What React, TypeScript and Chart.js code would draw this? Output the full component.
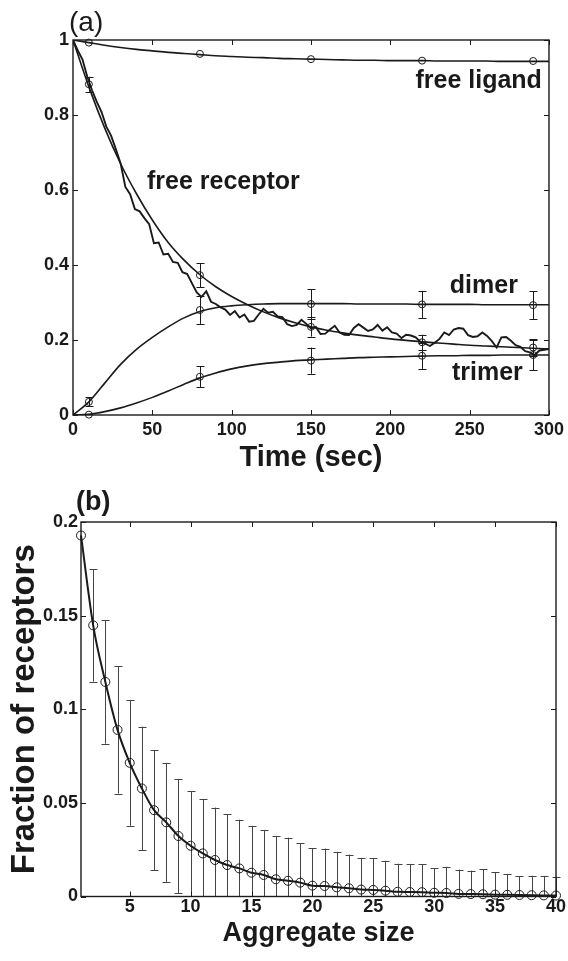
import React, { useEffect, useRef } from "react";
import { Chart, registerables } from "chart.js";

Chart.register(...registerables);

const FONT = '"Liberation Sans", Arial, Helvetica, sans-serif';
const INK = "#1a1a1a";

// ---------- Panel (a) data ----------
const timeGrid = [0, 10, 20, 30, 40, 50, 60, 70, 80, 90, 100, 110, 120, 130, 140, 150, 160, 170, 180, 190, 200, 210, 220, 230, 240, 250, 260, 270, 280, 290, 300];
const ligandCurve = [1.0, 0.993, 0.986, 0.98, 0.975, 0.971, 0.967, 0.964, 0.961, 0.958, 0.956, 0.954, 0.953, 0.951, 0.95, 0.949, 0.948, 0.947, 0.946, 0.946, 0.945, 0.945, 0.945, 0.944, 0.944, 0.944, 0.944, 0.943, 0.943, 0.943, 0.943];
const receptorCurve = [1.0, 0.875, 0.765, 0.67, 0.59, 0.52, 0.46, 0.413, 0.374, 0.342, 0.316, 0.294, 0.275, 0.259, 0.246, 0.235, 0.226, 0.219, 0.213, 0.208, 0.203, 0.199, 0.195, 0.192, 0.189, 0.186, 0.184, 0.182, 0.18, 0.178, 0.176];
const dimerCurve = [0, 0.035, 0.085, 0.135, 0.175, 0.207, 0.235, 0.259, 0.276, 0.286, 0.291, 0.294, 0.296, 0.297, 0.297, 0.297, 0.297, 0.297, 0.296, 0.296, 0.296, 0.296, 0.295, 0.295, 0.295, 0.295, 0.294, 0.294, 0.294, 0.294, 0.294];
const trimerCurve = [0, 0.002, 0.009, 0.019, 0.032, 0.047, 0.064, 0.082, 0.099, 0.112, 0.123, 0.131, 0.137, 0.141, 0.145, 0.147, 0.149, 0.151, 0.153, 0.154, 0.155, 0.156, 0.157, 0.158, 0.158, 0.159, 0.159, 0.16, 0.16, 0.16, 0.16];

const noisyTime = [0, 3, 6, 9, 12, 15, 18, 21, 24, 27, 30, 33, 36, 39, 42, 45, 48, 51, 54, 57, 60, 63, 66, 69, 72, 75, 78, 81, 84, 87, 90, 93, 96, 99, 102, 105, 108, 111, 114, 117, 120, 123, 126, 129, 132, 135, 138, 141, 144, 147, 150, 153, 156, 159, 162, 165, 168, 171, 174, 177, 180, 183, 186, 189, 192, 195, 198, 201, 204, 207, 210, 213, 216, 219, 222, 225, 228, 231, 234, 237, 240, 243, 246, 249, 252, 255, 258, 261, 264, 267, 270, 273, 276, 279, 282, 285, 288, 291, 294, 297, 300];
const noisyReceptor = [1.0, 0.972, 0.948, 0.902, 0.866, 0.835, 0.808, 0.769, 0.745, 0.709, 0.671, 0.608, 0.589, 0.549, 0.543, 0.525, 0.509, 0.458, 0.46, 0.428, 0.43, 0.408, 0.406, 0.381, 0.376, 0.351, 0.327, 0.315, 0.33, 0.302, 0.296, 0.287, 0.281, 0.267, 0.277, 0.26, 0.268, 0.249, 0.251, 0.268, 0.283, 0.273, 0.275, 0.263, 0.261, 0.242, 0.237, 0.24, 0.254, 0.243, 0.231, 0.235, 0.216, 0.217, 0.228, 0.238, 0.22, 0.214, 0.213, 0.232, 0.242, 0.233, 0.224, 0.228, 0.24, 0.225, 0.234, 0.22, 0.217, 0.205, 0.214, 0.212, 0.207, 0.195, 0.19, 0.184, 0.193, 0.203, 0.22, 0.213, 0.228, 0.232, 0.23, 0.213, 0.208, 0.21, 0.22, 0.211, 0.197, 0.18, 0.207, 0.208, 0.198, 0.186, 0.182, 0.17, 0.167, 0.16, 0.172, 0.174, 0.176];

const obsTime = [10, 80, 150, 220, 290];
const ligandObs = [0.993, 0.963, 0.949, 0.945, 0.944];
const receptorObs = [0.882, 0.373, 0.235, 0.194, 0.18];
const receptorErr = [0.02, 0.032, 0.026, 0.02, 0.022];
const dimerObs = [0.035, 0.28, 0.296, 0.295, 0.293];
const dimerErr = [0.012, 0.037, 0.04, 0.036, 0.037];
const trimerObs = [0.001, 0.102, 0.145, 0.158, 0.16];
const trimerErr = [0, 0.028, 0.035, 0.035, 0.04];

const xTicksA = [0, 50, 100, 150, 200, 250, 300];
const yTicksA = [0, 0.2, 0.4, 0.6, 0.8, 1];
const curveLabels = ["free ligand", "free receptor", "dimer", "trimer"];

// ---------- Panel (b) data ----------
const aggregateSize = [1, 2, 3, 4, 5, 6, 7, 8, 9, 10, 11, 12, 13, 14, 15, 16, 17, 18, 19, 20, 21, 22, 23, 24, 25, 26, 27, 28, 29, 30, 31, 32, 33, 34, 35, 36, 37, 38, 39, 40];
const fraction = [0.1928, 0.1448, 0.1146, 0.089, 0.0714, 0.0577, 0.0461, 0.0396, 0.0323, 0.0271, 0.023, 0.0195, 0.0168, 0.015, 0.0127, 0.0115, 0.0092, 0.0084, 0.0074, 0.0058, 0.0056, 0.0049, 0.0044, 0.0037, 0.0035, 0.0031, 0.0025, 0.0024, 0.0023, 0.002, 0.0019, 0.0014, 0.0013, 0.0012, 0.001, 0.0009, 0.0008, 0.0007, 0.0006, 0.0005];
const fractionErr = [0, 0.03, 0.033, 0.034, 0.0336, 0.033, 0.032, 0.0318, 0.0305, 0.029, 0.029, 0.028, 0.027, 0.026, 0.025, 0.024, 0.023, 0.023, 0.021, 0.02, 0.02, 0.019, 0.018, 0.017, 0.017, 0.016, 0.015, 0.015, 0.015, 0.013, 0.014, 0.013, 0.0125, 0.0134, 0.012, 0.011, 0.01, 0.0104, 0.0104, 0.01];
const xTicksB = [5, 10, 15, 20, 25, 30, 35, 40];
const yTicksB = [0, 0.05, 0.1, 0.15, 0.2];

// ---------- helpers ----------
const toXY = (xs: number[], ys: number[]) => xs.map((x, i) => ({ x, y: ys[i] }));

const curveDs = (xs: number[], ys: number[], width: number, smooth = true) => ({
  data: toXY(xs, ys),
  borderColor: INK,
  borderWidth: width,
  pointRadius: 0,
  fill: false,
  cubicInterpolationMode: smooth ? "monotone" : "default",
  tension: 0,
});

const markerDs = (xs: number[], ys: number[], r: number) => ({
  data: toXY(xs, ys),
  showLine: false,
  pointRadius: r,
  pointStyle: "circle",
  pointBackgroundColor: "rgba(0,0,0,0)",
  pointBorderColor: INK,
  pointBorderWidth: 1,
  clip: 8,
});

const framePlugin = {
  id: "frame",
  afterDatasetsDraw(chart: any) {
    const { ctx, chartArea, scales } = chart;
    const { left, right, top, bottom } = chartArea;
    const x = scales.x;
    const y = scales.y;
    ctx.save();
    ctx.strokeStyle = INK;
    ctx.lineWidth = 1;
    const len = 5;
    ctx.beginPath();
    x.ticks.forEach((t: any) => {
      const px = Math.round(x.getPixelForValue(t.value)) + 0.5;
      ctx.moveTo(px, bottom);
      ctx.lineTo(px, bottom - len);
      ctx.moveTo(px, top);
      ctx.lineTo(px, top + len);
    });
    y.ticks.forEach((t: any) => {
      const py = Math.round(y.getPixelForValue(t.value)) + 0.5;
      ctx.moveTo(left, py);
      ctx.lineTo(left + len, py);
      ctx.moveTo(right, py);
      ctx.lineTo(right - len, py);
    });
    ctx.stroke();
    ctx.lineWidth = 1.4;
    ctx.strokeRect(left, top, right - left, bottom - top);
    ctx.restore();
  },
};

const makeErrorPlugin = (series: { xs: number[]; ys: number[]; errs: number[]; color: string; cap: number }[]) => ({
  id: "errorbars",
  beforeDatasetsDraw(chart: any) {
    const { ctx, chartArea, scales } = chart;
    const { left, right, top, bottom } = chartArea;
    ctx.save();
    ctx.beginPath();
    ctx.rect(left - 6, top, right - left + 12, bottom - top);
    ctx.clip();
    ctx.lineWidth = 1;
    series.forEach((s) => {
      ctx.strokeStyle = s.color;
      s.xs.forEach((xv, i) => {
        const e = s.errs[i];
        if (!e) return;
        const px = Math.round(scales.x.getPixelForValue(xv)) + 0.5;
        const y1 = scales.y.getPixelForValue(s.ys[i] + e);
        const y2 = scales.y.getPixelForValue(s.ys[i] - e);
        ctx.beginPath();
        ctx.moveTo(px, y1);
        ctx.lineTo(px, y2);
        ctx.moveTo(px - s.cap, Math.round(y1) + 0.5);
        ctx.lineTo(px + s.cap, Math.round(y1) + 0.5);
        ctx.moveTo(px - s.cap, Math.round(y2) + 0.5);
        ctx.lineTo(px + s.cap, Math.round(y2) + 0.5);
        ctx.stroke();
      });
    });
    ctx.restore();
  },
});

const makeTextPlugin = (
  panel: { text: string; x: number; y: number; font: string },
  notes: { text: string; xv: number; yv: number; align: string }[]
) => ({
  id: "texts",
  afterDraw(chart: any) {
    const { ctx, scales } = chart;
    ctx.save();
    ctx.fillStyle = INK;
    ctx.textBaseline = "alphabetic";
    ctx.font = panel.font;
    ctx.textAlign = "left";
    ctx.fillText(panel.text, panel.x, panel.y);
    ctx.font = `bold 25px ${FONT}`;
    notes.forEach((n) => {
      ctx.textAlign = n.align;
      ctx.fillText(n.text, scales.x.getPixelForValue(n.xv), scales.y.getPixelForValue(n.yv));
    });
    ctx.restore();
  },
});

const tickFont = { family: FONT, size: 18, weight: "bold" as const };

function PanelA() {
  const ref = useRef<HTMLCanvasElement>(null);
  useEffect(() => {
    const chart = new Chart(ref.current as HTMLCanvasElement, {
      type: "line",
      data: {
        datasets: [
          curveDs(timeGrid, ligandCurve, 1.6),
          curveDs(timeGrid, receptorCurve, 1.6),
          curveDs(timeGrid, dimerCurve, 1.6),
          curveDs(timeGrid, trimerCurve, 1.6),
          curveDs(noisyTime, noisyReceptor, 1.9, false),
          markerDs(obsTime, ligandObs, 3.5),
          markerDs(obsTime, receptorObs, 3.5),
          markerDs(obsTime, dimerObs, 3.5),
          markerDs(obsTime, trimerObs, 3.5),
        ] as any,
      },
      options: {
        responsive: false,
        animation: false,
        events: [],
        layout: { padding: { left: 0, right: 19, top: 40, bottom: 0 } },
        plugins: { legend: { display: false }, tooltip: { enabled: false } },
        scales: {
          x: {
            type: "linear",
            min: 0,
            max: 300,
            afterBuildTicks: (s: any) => {
              s.ticks = xTicksA.map((v) => ({ value: v }));
            },
            afterFit: (s: any) => {
              s.height = 65;
            },
            grid: { display: false, drawTicks: false, tickLength: 0 },
            border: { display: false },
            ticks: { font: tickFont, color: INK, padding: 4, maxRotation: 0, autoSkip: false, callback: (v: any) => String(v) },
            title: { display: true, text: "Time (sec)", color: INK, font: { family: FONT, size: 29, weight: "bold" }, padding: { top: 0, bottom: 4.5 } },
          },
          y: {
            type: "linear",
            min: 0,
            max: 1,
            afterBuildTicks: (s: any) => {
              s.ticks = yTicksA.map((v) => ({ value: v }));
            },
            afterFit: (s: any) => {
              s.width = 73;
            },
            grid: { display: false, drawTicks: false, tickLength: 0 },
            border: { display: false },
            ticks: { font: tickFont, color: INK, padding: 4, autoSkip: false, callback: (v: any) => String(v) },
          },
        },
      } as any,
      plugins: [
        makeErrorPlugin([
          { xs: obsTime, ys: receptorObs, errs: receptorErr, color: INK, cap: 4 },
          { xs: obsTime, ys: dimerObs, errs: dimerErr, color: INK, cap: 4 },
          { xs: obsTime, ys: trimerObs, errs: trimerErr, color: INK, cap: 4 },
        ]),
        framePlugin,
        makeTextPlugin({ text: "(a)", x: 69, y: 31, font: `28px ${FONT}` }, [
          { text: curveLabels[0], xv: 295.5, yv: 0.872, align: "right" },
          { text: curveLabels[1], xv: 46.6, yv: 0.603, align: "left" },
          { text: curveLabels[2], xv: 280.4, yv: 0.325, align: "right" },
          { text: curveLabels[3], xv: 283.5, yv: 0.093, align: "right" },
        ]),
      ],
    });
    return () => chart.destroy();
  }, []);
  return <canvas ref={ref} width={568} height={480} style={{ position: "absolute", left: 0, top: 0, width: 568, height: 480 }} />;
}

function PanelB() {
  const ref = useRef<HTMLCanvasElement>(null);
  useEffect(() => {
    const chart = new Chart(ref.current as HTMLCanvasElement, {
      type: "line",
      data: {
        datasets: [
          {
            data: toXY(aggregateSize, fraction),
            borderColor: INK,
            borderWidth: 2,
            cubicInterpolationMode: "monotone",
            pointRadius: 4.5,
            pointStyle: "circle",
            pointBackgroundColor: "rgba(0,0,0,0)",
            pointBorderColor: INK,
            pointBorderWidth: 1,
            fill: false,
            clip: 8,
          },
        ] as any,
      },
      options: {
        responsive: false,
        animation: false,
        events: [],
        layout: { padding: { left: 0, right: 12, top: 42, bottom: 0 } },
        plugins: { legend: { display: false }, tooltip: { enabled: false } },
        scales: {
          x: {
            type: "linear",
            min: 1,
            max: 40,
            afterBuildTicks: (s: any) => {
              s.ticks = xTicksB.map((v) => ({ value: v }));
            },
            afterFit: (s: any) => {
              s.height = 64.5;
            },
            grid: { display: false, drawTicks: false, tickLength: 0 },
            border: { display: false },
            ticks: { font: tickFont, color: INK, padding: 0, maxRotation: 0, autoSkip: false, callback: (v: any) => String(v) },
            title: { display: true, text: "Aggregate size", color: INK, font: { family: FONT, size: 27, weight: "bold" }, padding: { top: 0, bottom: 11 } },
          },
          y: {
            type: "linear",
            min: 0,
            max: 0.2,
            afterBuildTicks: (s: any) => {
              s.ticks = yTicksB.map((v) => ({ value: v }));
            },
            afterFit: (s: any) => {
              s.width = 81;
            },
            grid: { display: false, drawTicks: false, tickLength: 0 },
            border: { display: false },
            ticks: { font: tickFont, color: INK, padding: 3, autoSkip: false, callback: (v: any) => String(v) },
            title: { display: true, text: "Fraction of receptors", color: INK, font: { family: FONT, size: 33, weight: "bold" }, padding: { top: 5, bottom: 0 } },
          },
        },
      } as any,
      plugins: [
        makeErrorPlugin([{ xs: aggregateSize, ys: fraction, errs: fractionErr, color: "#444", cap: 4 }]),
        framePlugin,
        makeTextPlugin({ text: "(b)", x: 76, y: 29.5, font: `bold 27px ${FONT}` }, []),
      ],
    });
    return () => chart.destroy();
  }, []);
  return <canvas ref={ref} width={568} height={481} style={{ position: "absolute", left: 0, top: 480, width: 568, height: 481 }} />;
}

export default function App() {
  return (
    <div style={{ position: "absolute", left: 0, top: 0, width: 568, height: 961, background: "#fff", overflow: "hidden" }}>
      <PanelA />
      <PanelB />
    </div>
  );
}
